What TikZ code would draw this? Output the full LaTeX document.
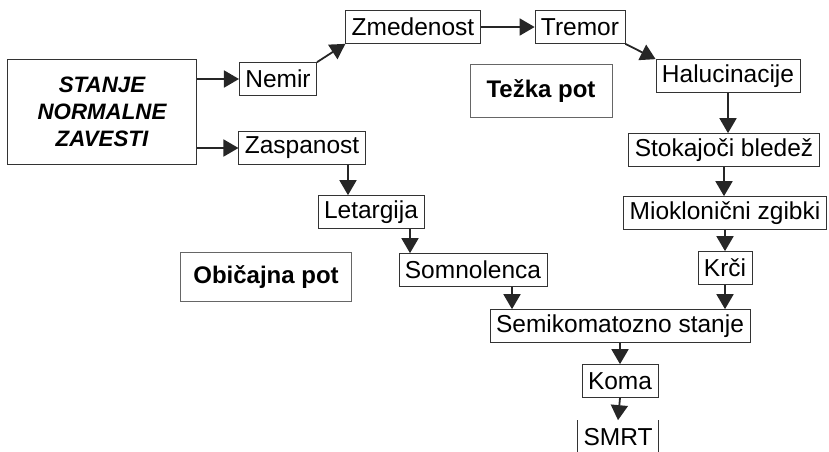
\documentclass[tikz,border=0pt]{standalone}
\usepackage{fontspec}
\setmainfont{Liberation Sans}
\usetikzlibrary{arrows.meta}

\begin{document}
\begin{tikzpicture}
			[x=1pt, y=-1pt,
			every node/.style={font=\fontsize{24.5}{27}\selectfont},
			box/.style={draw=black!80, line width=0.7pt, inner xsep=6pt, inner ysep=0pt, minimum height=33pt},
			label box/.style={draw=black!60, line width=0.7pt, font=\fontsize{24}{27}\selectfont\bfseries},
			arr/.style={line width=1.8pt, black!85, -{Triangle[length=15pt, width=17pt]}}]
			\useasboundingbox (0,0) rectangle (829,451);
			\node[box, minimum width=189pt, minimum height=105pt, align=center,
				font=\fontsize{22.3}{27}\selectfont\bfseries\itshape] (stanje) at (102,112) {STANJE\\NORMALNE\\ZAVESTI};
			\node[box] (nemir) at (278,79) {Nemir};
			\node[box] (zasp) at (302,148) {Zaspanost};
			\node[box] (zmed) at (413,27) {Zmedenost};
			\node[box] (tremor) at (580,27) {Tremor};
			\node[box] (haluc) at (728,76) {Halucinacije};
			\node[box] (stok) at (724,150) {Stokajoči bledež};
			\node[box] (miok) at (725,213) {Mioklonični zgibki};
			\node[box] (krci) at (725,268) {Krči};
			\node[box] (letarg) at (371,212) {Letargija};
			\node[box] (somn) at (473,270) {Somnolenca};
			\node[box] (semi) at (620,326) {Semikomatozno stanje};
			\node[box] (koma) at (620,381) {Koma};
			\node[box, draw=none] (smrt) at (618,437) {SMRT};
			\node[label box, minimum width=142pt, minimum height=53pt] (tezka) at (541,91) {Težka pot};
			\node[label box, minimum width=171pt, minimum height=49pt] (obicajna) at (266,277) {Običajna pot};
			\draw[arr] (stanje.east |- nemir.west) -- (nemir.west);
			\draw[arr] (stanje.east |- zasp.west) -- (zasp.west);
			\draw[arr] (nemir.north east) -- (zmed.south west);
			\draw[arr] (zmed) -- (tremor);
			\draw[arr] (tremor.south east) -- (haluc.north west);
			\draw[arr] (haluc.south) -- (haluc.south |- stok.north);
			\draw[arr] (stok.south) -- (stok.south |- miok.north);
			\draw[arr] (miok.south) -- (miok.south |- krci.north);
			\draw[arr] (krci.south) -- (krci.south |- semi.north);
			\draw[arr] ([xshift=46pt]zasp.south) -- ([xshift=46pt]zasp.south |- letarg.north);
			\draw[arr] ([xshift=39pt]letarg.south) -- ([xshift=39pt]letarg.south |- somn.north);
			\draw[arr] ([xshift=39pt]somn.south) -- ([xshift=39pt]somn.south |- semi.north);
			\draw[arr] (semi.south) -- (koma.north);
			\draw[arr] (koma.south) -- (smrt.north);
			\draw[black!80, line width=0.7pt] (smrt.north west) -- (smrt.south west) (smrt.north east) -- (smrt.south east);
		\end{tikzpicture}
\end{document}
